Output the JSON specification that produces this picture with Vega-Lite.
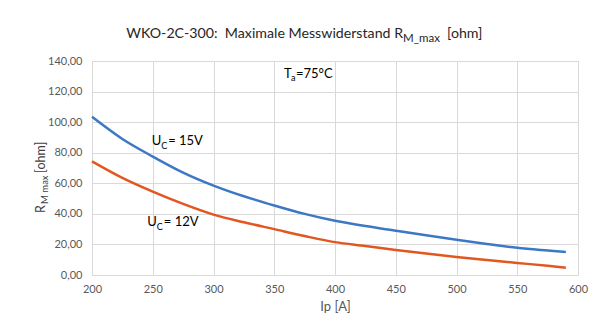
{
  "$schema": "https://vega.github.io/schema/vega-lite/v6.json",
  "width": 486,
  "height": 214,
  "autosize": {"type": "none"},
  "padding": {"left": 92, "top": 61, "right": 22, "bottom": 56},
  "background": "white",
  "config": {
    "view": {"stroke": "#d9d9d9", "strokeWidth": 1},
    "font": "Lato",
    "text": {"font": "Lato"},
    "axis": {
      "domain": false, "ticks": false, "grid": true, "gridColor": "#d9d9d9", "gridWidth": 1,
      "labelFont": "Lato", "labelFontSize": 11, "labelColor": "#595959", "labelOverlap": false,
      "labelFlush": false,
      "titleFont": "Lato", "titleFontSize": 13, "titleFontWeight": "normal", "titleColor": "#595959"
    },
    "axisX": {"tickCount": 9, "labelPadding": 8, "titlePadding": 6},
    "axisY": {"tickCount": 8, "labelPadding": 10, "labelExpr": "replace(format(datum.value, '.2f'), '.', ',')"}
  },
  "datasets": {
    "curves": [
      {"Ip": 200, "R": 103.5, "series": "15V"},
      {"Ip": 225, "R": 89.0, "series": "15V"},
      {"Ip": 250, "R": 77.5, "series": "15V"},
      {"Ip": 275, "R": 67.0, "series": "15V"},
      {"Ip": 300, "R": 58.5, "series": "15V"},
      {"Ip": 325, "R": 51.5, "series": "15V"},
      {"Ip": 350, "R": 45.5, "series": "15V"},
      {"Ip": 375, "R": 40.0, "series": "15V"},
      {"Ip": 400, "R": 35.5, "series": "15V"},
      {"Ip": 425, "R": 32.0, "series": "15V"},
      {"Ip": 450, "R": 29.0, "series": "15V"},
      {"Ip": 475, "R": 26.0, "series": "15V"},
      {"Ip": 500, "R": 23.0, "series": "15V"},
      {"Ip": 525, "R": 20.3, "series": "15V"},
      {"Ip": 550, "R": 17.8, "series": "15V"},
      {"Ip": 575, "R": 16.0, "series": "15V"},
      {"Ip": 590, "R": 15.0, "series": "15V"},
      {"Ip": 200, "R": 74.3, "series": "12V"},
      {"Ip": 225, "R": 63.5, "series": "12V"},
      {"Ip": 250, "R": 54.5, "series": "12V"},
      {"Ip": 275, "R": 46.5, "series": "12V"},
      {"Ip": 300, "R": 39.5, "series": "12V"},
      {"Ip": 325, "R": 34.5, "series": "12V"},
      {"Ip": 350, "R": 30.0, "series": "12V"},
      {"Ip": 375, "R": 25.5, "series": "12V"},
      {"Ip": 400, "R": 21.5, "series": "12V"},
      {"Ip": 425, "R": 19.0, "series": "12V"},
      {"Ip": 450, "R": 16.4, "series": "12V"},
      {"Ip": 475, "R": 14.0, "series": "12V"},
      {"Ip": 500, "R": 11.8, "series": "12V"},
      {"Ip": 525, "R": 9.8, "series": "12V"},
      {"Ip": 550, "R": 7.9, "series": "12V"},
      {"Ip": 575, "R": 6.0, "series": "12V"},
      {"Ip": 590, "R": 4.8, "series": "12V"}
    ],
    "one": [{}]
  },
  "layer": [
    {
      "data": {"name": "curves"},
      "mark": {"type": "line", "strokeWidth": 2.5, "interpolate": "monotone"},
      "encoding": {
        "x": {
          "field": "Ip", "type": "quantitative",
          "scale": {"domain": [200, 600], "nice": false, "zero": false},
          "axis": {"title": "Ip [A]"}
        },
        "y": {
          "field": "R", "type": "quantitative",
          "scale": {"domain": [0, 140], "nice": false, "zero": true},
          "axis": {"title": null}
        },
        "color": {
          "field": "series", "type": "nominal",
          "scale": {"domain": ["12V", "15V"], "range": ["#E2571F", "#3D78C4"]},
          "legend": null
        }
      }
    },
    {
      "data": {"name": "one"},
      "mark": {"type": "text", "text": "WKO-2C-300:\u00a0 Maximale Messwiderstand R", "align": "right", "baseline": "alphabetic", "fontSize": 14.2, "color": "#262626"},
      "encoding": {"x": {"datum": 456}, "y": {"datum": 155}}
    },
    {
      "data": {"name": "one"},
      "mark": {"type": "text", "text": "M_max", "align": "left", "baseline": "alphabetic", "fontSize": 11.5, "dy": 4, "color": "#262626"},
      "encoding": {"x": {"datum": 456}, "y": {"datum": 155}}
    },
    {
      "data": {"name": "one"},
      "mark": {"type": "text", "text": "[ohm]", "align": "left", "baseline": "alphabetic", "fontSize": 14.2, "dx": 44, "color": "#262626"},
      "encoding": {"x": {"datum": 456}, "y": {"datum": 155}}
    },
    {
      "data": {"name": "one"},
      "mark": {"type": "text", "text": "R", "align": "left", "baseline": "alphabetic", "fontSize": 12.5, "angle": 270, "color": "#404040"},
      "encoding": {"x": {"datum": 161.3}, "y": {"datum": 40.6}}
    },
    {
      "data": {"name": "one"},
      "mark": {"type": "text", "text": "M max", "align": "left", "baseline": "alphabetic", "fontSize": 9.5, "angle": 270, "dx": 9, "dy": 3, "color": "#404040"},
      "encoding": {"x": {"datum": 161.3}, "y": {"datum": 40.6}}
    },
    {
      "data": {"name": "one"},
      "mark": {"type": "text", "text": "[ohm]", "align": "left", "baseline": "alphabetic", "fontSize": 12.5, "angle": 270, "dx": 40, "color": "#404040"},
      "encoding": {"x": {"datum": 161.3}, "y": {"datum": 40.6}}
    },
    {
      "data": {"name": "one"},
      "mark": {"type": "text", "text": "U", "align": "left", "baseline": "alphabetic", "fontSize": 13, "color": "#000000"},
      "encoding": {"x": {"datum": 249.1}, "y": {"datum": 85.0}}
    },
    {
      "data": {"name": "one"},
      "mark": {"type": "text", "text": "C", "align": "left", "baseline": "alphabetic", "fontSize": 9, "dx": 9.5, "dy": 4, "color": "#000000"},
      "encoding": {"x": {"datum": 249.1}, "y": {"datum": 85.0}}
    },
    {
      "data": {"name": "one"},
      "mark": {"type": "text", "text": "= 15V", "align": "left", "baseline": "alphabetic", "fontSize": 13, "dx": 16.5, "color": "#000000"},
      "encoding": {"x": {"datum": 249.1}, "y": {"datum": 85.0}}
    },
    {
      "data": {"name": "one"},
      "mark": {"type": "text", "text": "U", "align": "left", "baseline": "alphabetic", "fontSize": 13, "color": "#000000"},
      "encoding": {"x": {"datum": 245.5}, "y": {"datum": 32.1}}
    },
    {
      "data": {"name": "one"},
      "mark": {"type": "text", "text": "C", "align": "left", "baseline": "alphabetic", "fontSize": 9, "dx": 9.5, "dy": 4, "color": "#000000"},
      "encoding": {"x": {"datum": 245.5}, "y": {"datum": 32.1}}
    },
    {
      "data": {"name": "one"},
      "mark": {"type": "text", "text": "= 12V", "align": "left", "baseline": "alphabetic", "fontSize": 13, "dx": 16.5, "color": "#000000"},
      "encoding": {"x": {"datum": 245.5}, "y": {"datum": 32.1}}
    },
    {
      "data": {"name": "one"},
      "mark": {"type": "text", "text": "T", "align": "left", "baseline": "alphabetic", "fontSize": 13, "color": "#000000"},
      "encoding": {"x": {"datum": 358}, "y": {"datum": 128.9}}
    },
    {
      "data": {"name": "one"},
      "mark": {"type": "text", "text": "a", "align": "left", "baseline": "alphabetic", "fontSize": 9, "dx": 7, "dy": 3, "color": "#000000"},
      "encoding": {"x": {"datum": 358}, "y": {"datum": 128.9}}
    },
    {
      "data": {"name": "one"},
      "mark": {"type": "text", "text": "=75°C", "align": "left", "baseline": "alphabetic", "fontSize": 13, "dx": 12, "color": "#000000"},
      "encoding": {"x": {"datum": 358}, "y": {"datum": 128.9}}
    }
  ]
}
